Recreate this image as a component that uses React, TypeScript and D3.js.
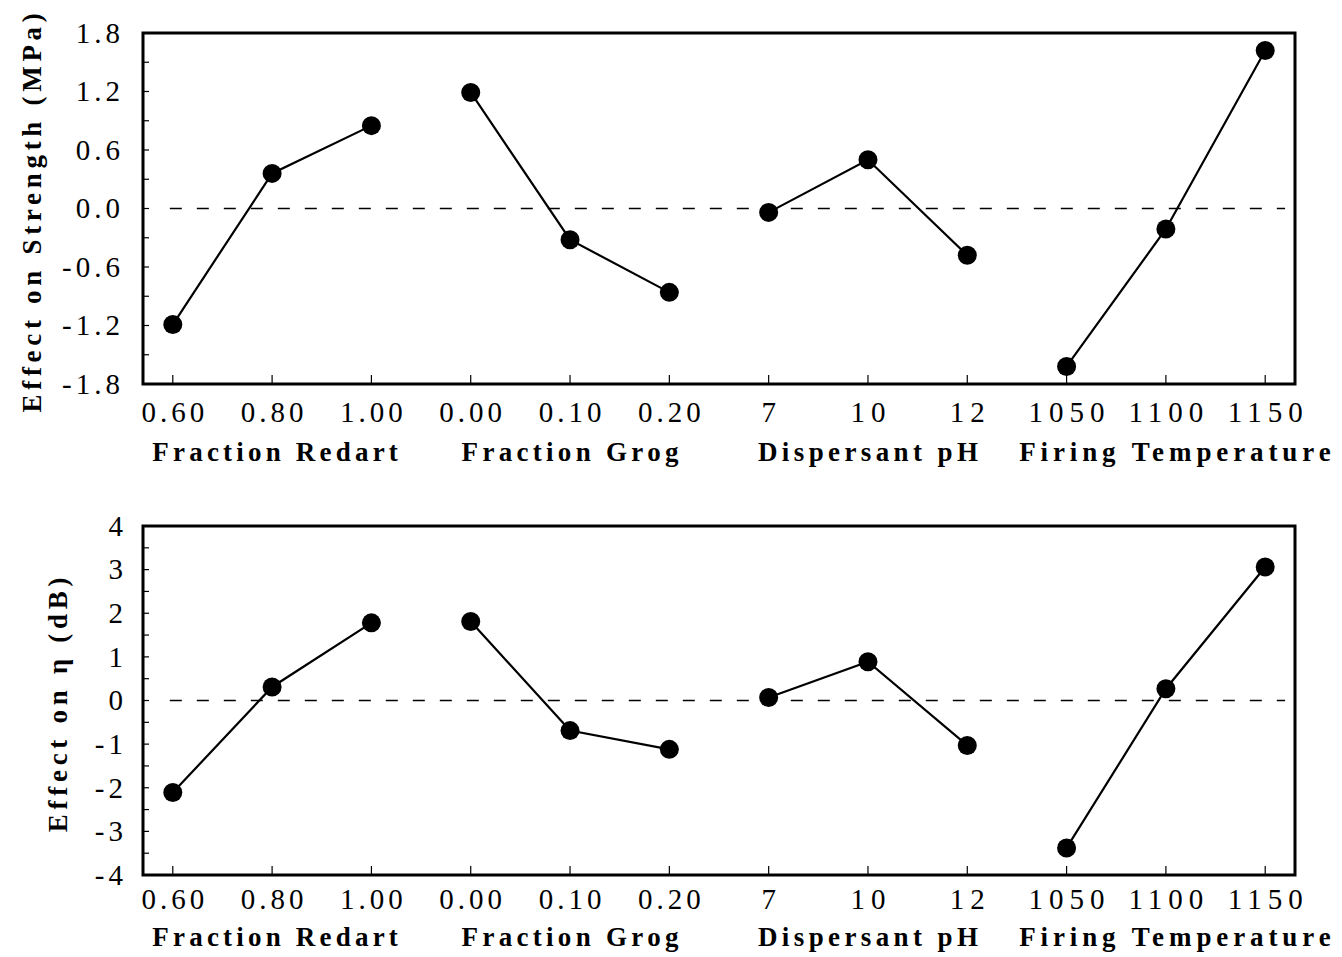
import React from "react";
import * as d3 from "d3";

const xLabels = ["0.60", "0.80", "1.00", "0.00", "0.10", "0.20", "7", "10", "12", "1050", "1100", "1150"];
const groupNames = ["Fraction Redart", "Fraction Grog", "Dispersant pH", "Firing Temperature"];
const strengthValues = [-1.19, 0.36, 0.85, 1.19, -0.32, -0.86, -0.04, 0.5, -0.48, -1.62, -0.21, 1.62];
const etaValues = [-2.11, 0.31, 1.78, 1.81, -0.69, -1.12, 0.07, 0.89, -1.03, -3.38, 0.27, 3.06];
const strengthTicks = [-1.8, -1.2, -0.6, 0, 0.6, 1.2, 1.8];
const etaTicks = [-4, -3, -2, -1, 0, 1, 2, 3, 4];

const FONT = "'Liberation Serif', 'Times New Roman', serif";

type PanelProps = {
  values: number[];
  domain: [number, number];
  ticks: number[];
  minorStep: number;
  fmt: (v: number) => string;
  top: number;
  bottom: number;
  title: string;
  titleX: number;
  tickLabelX: number;
  tickLabelDy: number;
  nameDy: number;
};

function Panel(p: PanelProps) {
  const left = 143;
  const right = 1295;
  const x = d3.scaleLinear().domain([-0.3, 11.3]).range([left, right]);
  const y = d3.scaleLinear().domain(p.domain).range([p.bottom, p.top]);
  const minor = d3.range(p.domain[0], p.domain[1] + 1e-9, p.minorStep);
  const groups = [0, 1, 2, 3].map((g) => d3.range(g * 3, g * 3 + 3));
  const line = d3
    .line<number>()
    .x((i) => x(i))
    .y((i) => y(p.values[i]));
  const groupDx = [3, 0, 0, 9];
  const groupLs = [4.2, 4.3, 4.4, 4.9];
  return (
    <g>
      <line
        x1={x(-0.03)}
        x2={x(11.2)}
        y1={y(0)}
        y2={y(0)}
        stroke="#000"
        strokeWidth={1.3}
        strokeDasharray="12 15"
      />
      {minor.map((v, i) => (
        <line key={"m" + i} x1={left} x2={left + 6} y1={y(v)} y2={y(v)} stroke="#000" strokeWidth={1.2} />
      ))}
      {xLabels.map((_, i) => (
        <line key={"xt" + i} x1={x(i)} x2={x(i)} y1={p.bottom} y2={p.bottom - 9} stroke="#000" strokeWidth={1.2} />
      ))}
      <rect x={left} y={p.top} width={right - left} height={p.bottom - p.top} fill="none" stroke="#000" strokeWidth={3} />
      {groups.map((g, gi) => (
        <path key={"l" + gi} d={line(g) || ""} fill="none" stroke="#000" strokeWidth={2.2} />
      ))}
      {p.values.map((v, i) => (
        <circle key={"c" + i} cx={x(i)} cy={y(v)} r={9.5} fill="#000" />
      ))}
      {p.ticks.map((t, i) => (
        <text
          key={"yl" + i}
          x={p.tickLabelX}
          y={y(t)}
          dy="0.34em"
          textAnchor="end"
          fontSize={29}
          letterSpacing={4}
          fontFamily={FONT}
        >
          {p.fmt(t)}
        </text>
      ))}
      {xLabels.map((l, i) => {
        const ls = l.includes(".") ? 4 : 6;
        return (
          <text
            key={"xl" + i}
            x={x(i) + ls / 2}
            y={p.bottom + p.tickLabelDy}
            textAnchor="middle"
            fontSize={29}
            letterSpacing={ls}
            fontFamily={FONT}
          >
            {l}
          </text>
        );
      })}
      {groupNames.map((n, gi) => (
        <text
          key={"g" + gi}
          x={x(gi * 3 + 1) + groupLs[gi] / 2 + groupDx[gi]}
          y={p.bottom + p.nameDy}
          textAnchor="middle"
          fontSize={27}
          fontWeight="bold"
          letterSpacing={groupLs[gi]}
          fontFamily={FONT}
        >
          {n}
        </text>
      ))}
      <text
        transform={`translate(${p.titleX},${(p.top + p.bottom) / 2 + 2}) rotate(-90)`}
        textAnchor="middle"
        fontSize={27}
        fontWeight="bold"
        letterSpacing={4.7}
        fontFamily={FONT}
      >
        {p.title}
      </text>
    </g>
  );
}

const fmtStrength = (v: number) => d3.format(".1f")(v).replace("\u2212", "-");
const fmtEta = (v: number) => d3.format("d")(v).replace("\u2212", "-");

export default function App() {
  return (
    <svg
      width={1342}
      height={957}
      style={{ position: "absolute", left: 0, top: 0, background: "#fff" }}
    >
      <rect width={1342} height={957} fill="#fff" />
      <Panel
        values={strengthValues}
        domain={[-1.8, 1.8]}
        ticks={strengthTicks}
        minorStep={0.3}
        fmt={fmtStrength}
        top={33}
        bottom={384}
        title="Effect on Strength (MPa)"
        titleX={41}
        tickLabelX={124}
        tickLabelDy={38}
        nameDy={77}
      />
      <Panel
        values={etaValues}
        domain={[-4, 4]}
        ticks={etaTicks}
        minorStep={0.5}
        fmt={fmtEta}
        top={526}
        bottom={875}
        title="Effect on η (dB)"
        titleX={67}
        tickLabelX={127}
        tickLabelDy={34}
        nameDy={71}
      />
    </svg>
  );
}
